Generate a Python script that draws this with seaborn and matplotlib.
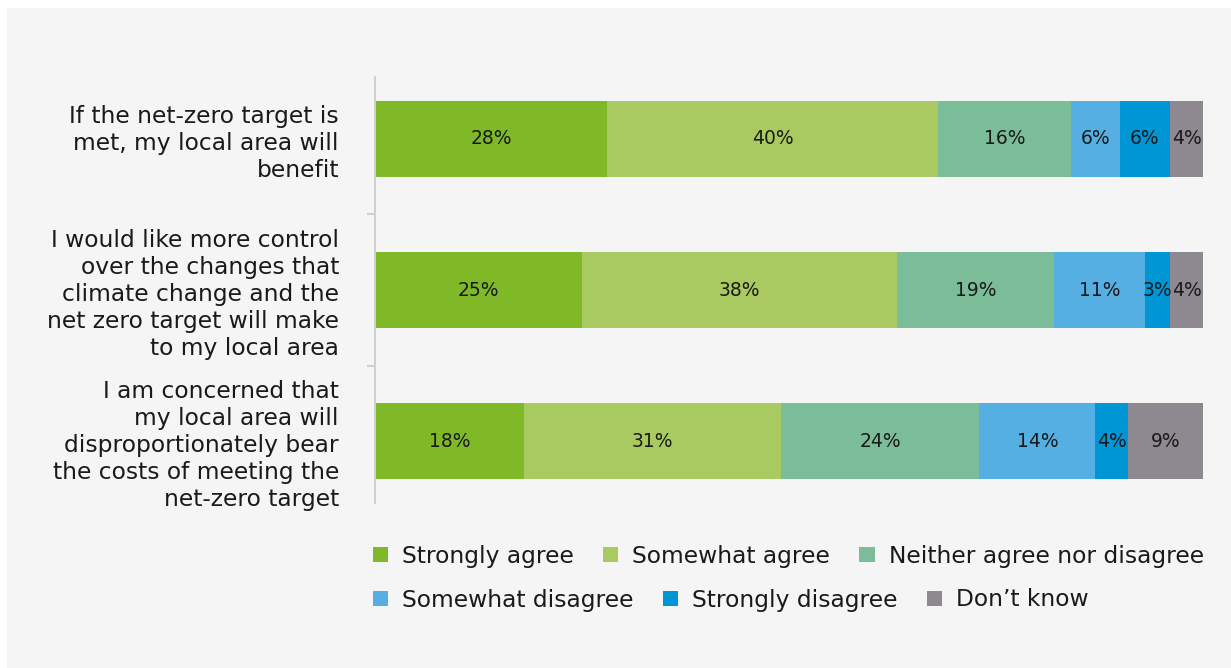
import matplotlib
matplotlib.use("Agg")
import matplotlib.pyplot as plt
from matplotlib.patches import Patch, Rectangle
from matplotlib.ticker import FixedLocator
import numpy as np
import pandas as pd
import seaborn as sns

# Survey statements (y-axis categories)
statements = [
    "If the net-zero target is\nmet, my local area will\nbenefit",
    "I would like more control\nover the changes that\nclimate change and the\nnet zero target will make\nto my local area",
    "I am concerned that\nmy local area will\ndisproportionately bear\nthe costs of meeting the\nnet-zero target",
]

# Response options, in stacking order
responses = [
    "Strongly agree",
    "Somewhat agree",
    "Neither agree nor disagree",
    "Somewhat disagree",
    "Strongly disagree",
    "Don\u2019t know",
]

# Percentages for each response, one list per statement
strongly_agree = [28, 25, 18]
somewhat_agree = [40, 38, 31]
neither = [16, 19, 24]
somewhat_disagree = [6, 11, 14]
strongly_disagree = [6, 3, 4]
dont_know = [4, 4, 9]

colors = ["#80B928", "#A8CA60", "#7BBD99", "#56AFE2", "#0096D6", "#8E8990"]

series = [strongly_agree, somewhat_agree, neither,
          somewhat_disagree, strongly_disagree, dont_know]

sns.set_theme(style="white")
plt.rcParams["font.family"] = ["DejaVu Sans"]

fig = plt.figure(figsize=(12.31, 6.68), dpi=100, facecolor="white")
# light grey panel behind the chart
fig.patches.append(Rectangle((7 / 1231, 0), 1 - 7 / 1231, 1 - 8 / 668,
                             transform=fig.transFigure, facecolor="#F5F5F5",
                             edgecolor="none", zorder=-10))

ax = fig.add_axes([375 / 1231, 1 - 503 / 668, (1203 - 375) / 1231, (503 - 77) / 668])
ax.set_facecolor("none")

values = np.array(series, dtype=float)        # shape (responses, statements)
cum = np.cumsum(values, axis=0)

# draw stacked bars as layered cumulative bars, longest first
for i in range(len(responses) - 1, -1, -1):
    df = pd.DataFrame({"statement": statements, "value": cum[i]})
    sns.barplot(data=df, x="value", y="statement", orient="h", color=colors[i],
                width=0.5, saturation=1, ax=ax, linewidth=0)

# value labels centred in each segment
for i in range(len(responses)):
    for j in range(len(statements)):
        v = values[i, j]
        ax.text(cum[i, j] - v / 2, j, f"{int(v)}%", ha="center", va="center",
                fontsize=13.5, color="#1A1A1A")

ax.set_xlim(0, 100)
ax.set_ylim(2.41, -0.41)
ax.set_xlabel("")
ax.set_ylabel("")
ax.set_xticks([])
for s in ["top", "right", "bottom"]:
    ax.spines[s].set_visible(False)
ax.spines["left"].set_color("#D0D0D0")
ax.spines["left"].set_linewidth(1.5)
ax.tick_params(axis="y", which="major", length=0, pad=26, labelsize=16.8,
               colors="#1A1A1A")
ax.yaxis.set_minor_locator(FixedLocator([0.5, 1.5]))
ax.tick_params(axis="y", which="minor", length=6, width=1.5, color="#D0D0D0",
               direction="out", left=True)
for lab in ax.get_yticklabels():
    lab.set_horizontalalignment("right")
    lab.set_multialignment("right")
    lab.set_linespacing(1.22)

# legend laid out in two flowing rows
handles = [Patch(facecolor=c, edgecolor="none", label=r) for c, r in zip(colors, responses)]
common = dict(frameon=False, fontsize=16.8, handlelength=0.65, handleheight=0.65,
              handletextpad=0.6, columnspacing=1.25, borderpad=0, borderaxespad=0,
              labelcolor="#1A1A1A")
fig.legend(handles=handles[:3], ncol=3, loc="center left",
           bbox_to_anchor=(373 / 1231, 1 - 556 / 668), **common)
fig.legend(handles=handles[3:], ncol=3, loc="center left",
           bbox_to_anchor=(373 / 1231, 1 - 600 / 668), **common)

fig.savefig("out.png", dpi=100, facecolor=fig.get_facecolor())
